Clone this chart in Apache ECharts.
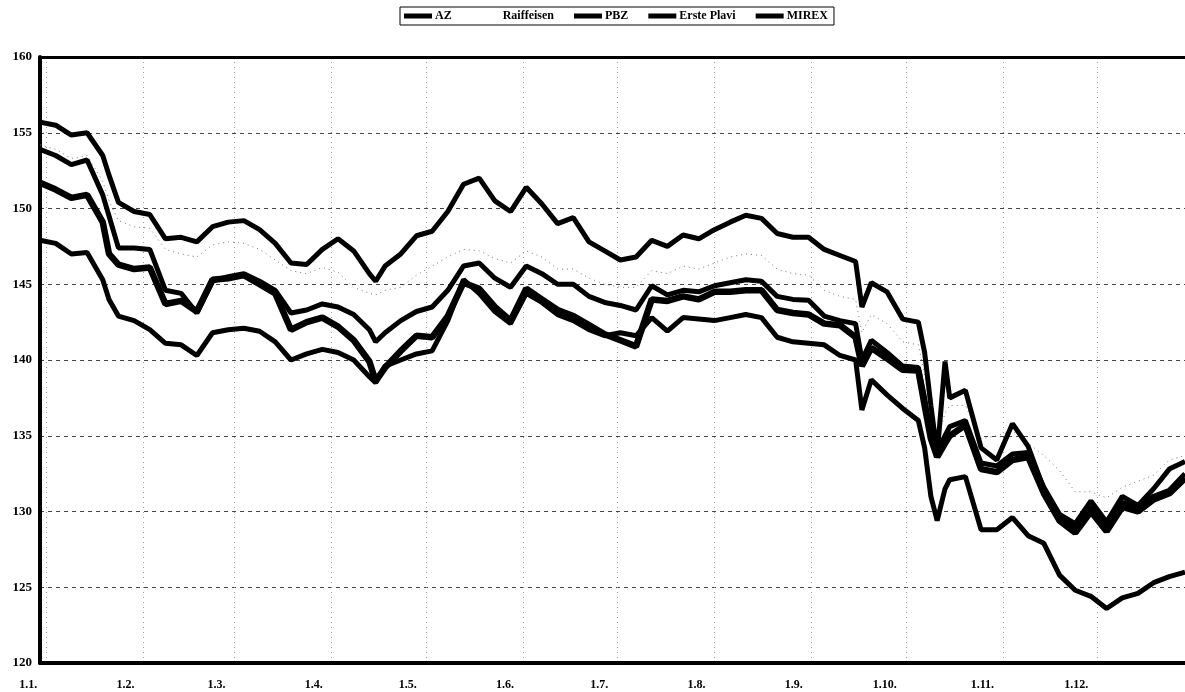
<!DOCTYPE html>
<html>
<head>
<meta charset="utf-8">
<script src="https://cdn.jsdelivr.net/npm/echarts@6/dist/echarts.min.js"></script>
<style>
html, body { margin: 0; padding: 0; background: #fff; }
#chart { width: 1185px; height: 692px; }
</style>
</head>
<body>
<div id="chart"></div>
<script>
// days counted from 1.1. (samples)
var days = [-2, 3, 8, 13, 18, 20, 23, 28, 33, 38, 43, 48, 53, 58, 63, 68, 73, 78, 83, 88,
  93, 98, 103, 105, 108, 113, 118, 123, 128, 133, 138, 143, 148, 153, 158, 163, 168, 173, 178, 183,
  188, 193, 198, 203, 208, 213, 218, 223, 228, 233, 238, 243, 248, 253, 258, 260, 263, 268, 273, 278,
  280, 282, 284, 286.5, 288, 293, 298, 303, 308, 313, 318, 323, 328, 333, 338, 343, 348, 353, 358, 363];

var az = [155.7, 155.5, 154.85, 155.0, 153.5, 152.2, 150.4, 149.8, 149.6, 148.0,
  148.1, 147.8, 148.8, 149.1, 149.2, 148.6, 147.7, 146.4, 146.3, 147.3,
  148.0, 147.2, 145.7, 145.2, 146.2, 147.0, 148.2, 148.5, 149.8, 151.6,
  152.0, 150.5, 149.8, 151.4, 150.3, 149.0, 149.4, 147.8, 147.2, 146.6,
  146.8, 147.9, 147.5, 148.25, 148.0, 148.6, 149.1, 149.55, 149.35, 148.35,
  148.1, 148.1, 147.3, 146.9, 146.5, 143.5, 145.1, 144.5, 142.7, 142.5,
  140.5, 137.0, 133.8, 139.9, 137.5, 138.0, 134.2, 133.4, 135.8, 134.3,
  131.5, 129.8, 129.2, 130.7, 129.3, 131.0, 130.4, 131.5, 132.8, 133.3];

var raiffeisen = [154.2, 153.9, 153.3, 153.5, 151.8, 150.5, 149.2, 148.8, 148.7, 147.3,
  147.0, 146.8, 147.6, 147.8, 147.7, 147.3, 146.6, 145.9, 145.7, 146.1,
  145.8, 144.8, 144.4, 144.3, 144.6, 144.8, 145.6, 146.2, 146.8, 147.3,
  147.2, 146.7, 146.4, 147.2, 146.8, 146.0, 146.0, 145.4, 145.0, 144.8,
  144.8, 145.9, 145.7, 146.2, 146.0, 146.4, 146.8, 147.0, 146.9, 146.0,
  145.7, 145.6, 144.6, 144.2, 144.0, 141.8, 143.0, 142.4, 141.2, 141.0,
  139.0, 136.5, 134.6, 136.5, 137.0, 137.0, 134.8, 135.0, 135.3, 134.5,
  133.7, 132.7, 131.3, 131.3, 130.9, 131.6, 132.0, 132.4, 133.4, 133.7];

var pbz = [153.9, 153.5, 152.9, 153.2, 150.9, 149.5, 147.4, 147.4, 147.3, 144.6,
  144.4, 143.1, 145.2, 145.5, 145.7, 145.2, 144.6, 143.1, 143.3, 143.7,
  143.5, 143.0, 142.0, 141.2, 141.8, 142.6, 143.2, 143.5, 144.6, 146.2,
  146.4, 145.4, 144.8, 146.2, 145.7, 145.0, 145.0, 144.2, 143.8, 143.6,
  143.3, 144.9, 144.3, 144.6, 144.5, 144.9, 145.1, 145.3, 145.2, 144.2,
  144.0, 143.95, 142.9, 142.6, 142.4, 140.0, 141.3, 140.5, 139.6, 139.5,
  137.5, 135.0, 133.9, 135.0, 135.6, 136.0, 133.2, 133.0, 133.8, 133.9,
  131.6, 129.8, 129.0, 130.3, 129.0, 130.6, 130.2, 131.0, 131.4, 132.5];

var erstePlavi = [147.9, 147.7, 147.0, 147.1, 145.3, 144.0, 142.9, 142.6, 142.0, 141.1,
  141.0, 140.3, 141.8, 142.0, 142.1, 141.9, 141.2, 140.0, 140.4, 140.7,
  140.5, 140.0, 138.9, 138.5, 139.6, 140.0, 140.4, 140.6, 142.6, 145.3,
  144.4, 143.2, 142.4, 144.4, 143.8, 143.0, 142.6, 142.0, 141.6, 141.8,
  141.6, 142.8, 141.9, 142.8, 142.7, 142.6, 142.8, 143.0, 142.8, 141.5,
  141.2, 141.1, 141.0, 140.3, 140.0, 136.7, 138.7, 137.7, 136.8, 136.0,
  134.2, 131.0, 129.4, 131.5, 132.1, 132.3, 128.8, 128.8, 129.6, 128.4,
  127.9, 125.8, 124.8, 124.4, 123.6, 124.3, 124.6, 125.3, 125.7, 126.0];

var mirex = [151.7, 151.25, 150.7, 150.9, 149.1, 147.0, 146.3, 146.0, 146.1, 143.7,
  143.9, 143.2, 145.3, 145.4, 145.6, 145.0, 144.4, 142.0, 142.5, 142.8,
  142.2, 141.3, 139.9, 138.6, 139.5, 140.6, 141.6, 141.5, 142.9, 145.1,
  144.7, 143.5, 142.6, 144.7, 144.0, 143.3, 142.9, 142.3, 141.7, 141.3,
  140.9, 144.0, 143.9, 144.2, 144.0, 144.5, 144.5, 144.6, 144.6, 143.3,
  143.1, 143.0, 142.4, 142.3, 141.5, 139.6, 140.8, 140.1, 139.35, 139.3,
  137.0, 134.8, 133.6, 134.5, 135.0, 135.7, 132.8, 132.6, 133.4, 133.6,
  131.2, 129.4, 128.6, 130.0, 128.7, 130.3, 130.0, 130.8, 131.2, 132.2];

var yTicks = [120, 160, 5];   // min, max, step
var serif = '"Liberation Serif", "DejaVu Serif", serif';

var dayMs = 86400000;
var start = Date.UTC(2008, 0, 1);
function pairs(vals) {
  return days.map(function (d, i) { return [start + d * dayMs, vals[i]]; });
}

var chart = echarts.init(document.getElementById('chart'));
chart.setOption({
  animation: false,
  useUTC: true,
  backgroundColor: '#fff',
  grid: { left: 40, right: 0, top: 57, bottom: 29 },
  legend: {
    top: 7,
    left: 400,
    icon: 'rect',
    itemWidth: 28,
    itemHeight: 5,
    itemGap: 20,
    padding: [3, 6, 3, 4],
    borderColor: '#000',
    borderWidth: 1,
    textStyle: { fontFamily: serif, fontWeight: 'bold', fontSize: 12, color: '#000', padding: [0, 0, 0, -2] },
    data: [
      { name: 'AZ' },
      { name: 'Raiffeisen', itemStyle: { opacity: 0 } },
      { name: 'PBZ' },
      { name: 'Erste Plavi' },
      { name: 'MIREX' }
    ]
  },
  xAxis: [{
    type: 'time',
    min: start - 2 * dayMs,
    max: start + 363 * dayMs,
    splitNumber: 12,
    axisLine: { lineStyle: { color: '#000', width: 4 } },
    axisTick: { show: false },
    axisLabel: {
      showMinLabel: false,
      showMaxLabel: false,
      margin: 16,
      align: 'right',
      padding: [0, 9, 0, 0],
      fontFamily: serif,
      fontWeight: 'bold',
      fontSize: 12,
      color: '#000',
      formatter: function (v) {
        var d = new Date(v);
        if (d.getUTCDate() !== 1) return '';
        return d.getUTCDate() + '.' + (d.getUTCMonth() + 1) + '.';
      }
    },
    splitLine: { show: true, lineStyle: { color: '#999', width: 1, type: [1, 4] } }
  }, {
    type: 'value',
    position: 'top',
    min: 0,
    max: 1,
    axisLine: { show: true, lineStyle: { color: '#000', width: 3 } },
    axisTick: { show: false },
    axisLabel: { show: false },
    splitLine: { show: false }
  }],
  yAxis: {
    type: 'value',
    min: yTicks[0],
    max: yTicks[1],
    interval: yTicks[2],
    axisLine: { show: true, lineStyle: { color: '#000', width: 4 } },
    axisTick: { show: false },
    axisLabel: { margin: 8, fontFamily: serif, fontWeight: 'bold', fontSize: 13, color: '#000' },
    splitLine: { show: true, lineStyle: { color: '#444', width: 1, type: [4, 4] } }
  },
  series: [
    { name: 'AZ', type: 'line', showSymbol: false, data: pairs(az),
      itemStyle: { color: '#000' }, lineStyle: { color: '#000', width: 5 } },
    { name: 'Raiffeisen', type: 'line', showSymbol: false, data: pairs(raiffeisen), z: 1,
      itemStyle: { color: '#000' }, lineStyle: { color: '#777', width: 1, type: [1, 4] } },
    { name: 'PBZ', type: 'line', showSymbol: false, data: pairs(pbz),
      itemStyle: { color: '#000' }, lineStyle: { color: '#000', width: 5 } },
    { name: 'Erste Plavi', type: 'line', showSymbol: false, data: pairs(erstePlavi),
      itemStyle: { color: '#000' }, lineStyle: { color: '#000', width: 5 } },
    { name: 'MIREX', type: 'line', showSymbol: false, data: pairs(mirex),
      itemStyle: { color: '#000' }, lineStyle: { color: '#000', width: 6.5 } }
  ]
});
</script>
</body>
</html>
